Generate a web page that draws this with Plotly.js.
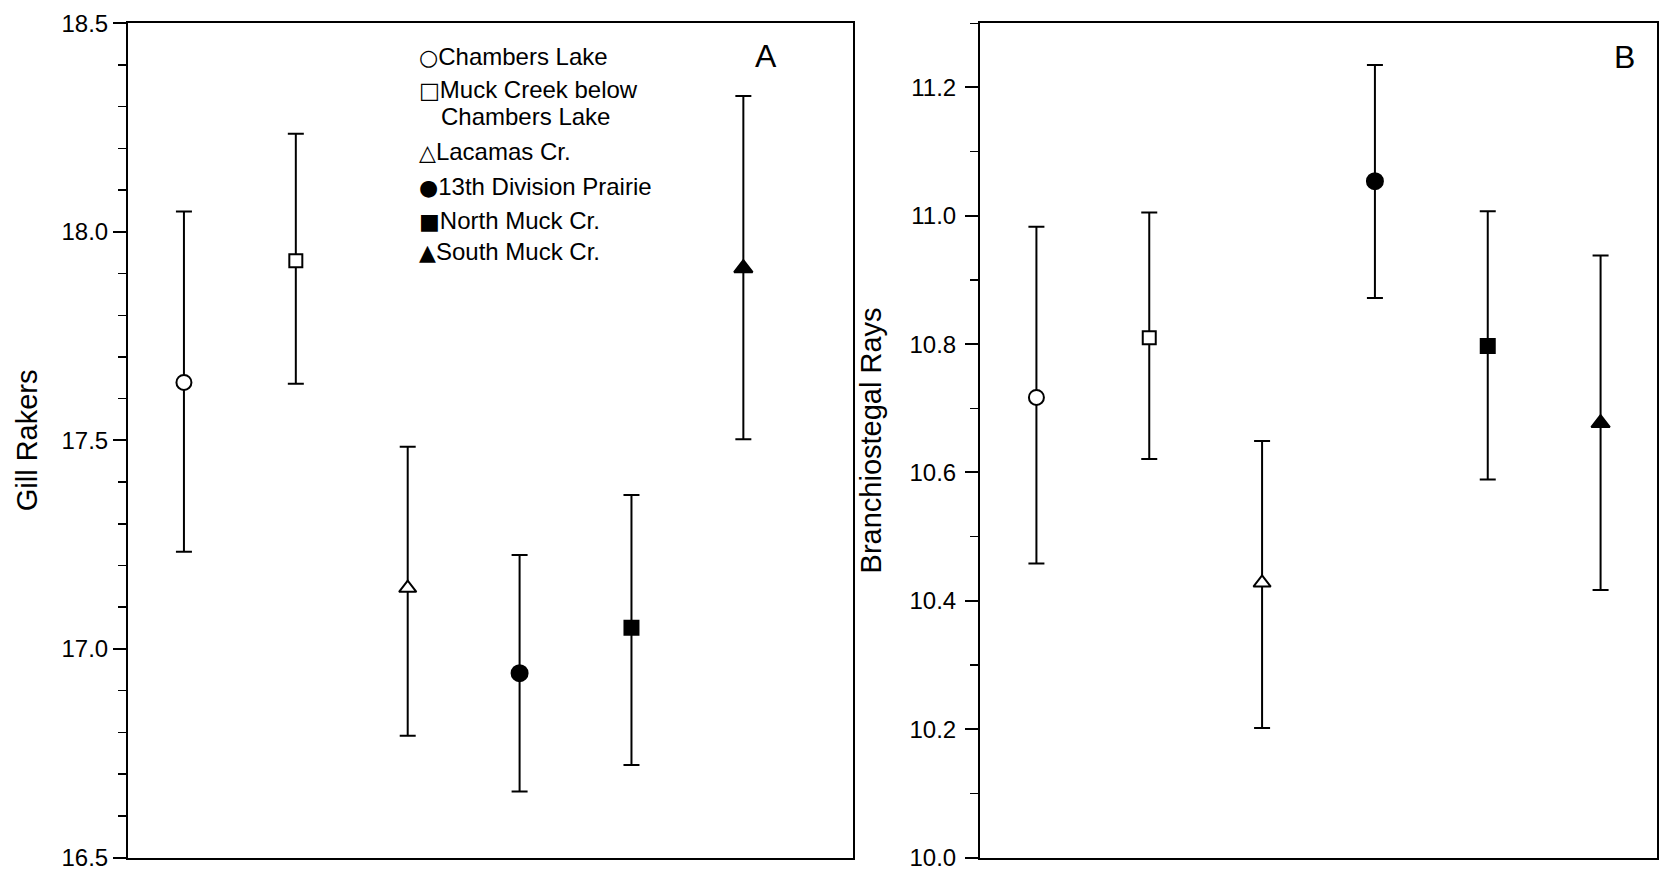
<!DOCTYPE html>
<html>
<head>
<meta charset="utf-8">
<script src="https://cdn.plot.ly/plotly-3.0.1.min.js"></script>
<style>
  html, body { margin: 0; padding: 0; background: #ffffff; }
  #chart { width: 1662px; height: 874px; }
</style>
</head>
<body>
<div id="chart"></div>
<script>
// ---- data ----
const sites = ["Chambers Lake", "Muck Creek below Chambers Lake", "Lacamas Cr.", "13th Division Prairie", "North Muck Cr.", "South Muck Cr."];
const legendLines = ["Chambers Lake", "Muck Creek below<br>Chambers Lake", "Lacamas Cr.", "13th Division Prairie", "North Muck Cr.", "South Muck Cr."];
const sitePos = [1, 2, 3, 4, 5, 6];

const gillMean  = [17.639, 17.931, 17.146, 16.942, 17.051, 17.913];
const gillUpper = [18.049, 18.235, 17.485, 17.225, 17.369, 18.326];
const gillLower = [17.233, 17.636, 16.792, 16.658, 16.722, 17.503];

const brMean  = [10.717, 10.810, 10.428, 11.054, 10.797, 10.677];
const brUpper = [10.983, 11.005, 10.649, 11.235, 11.007, 10.938];
const brLower = [10.458, 10.621, 10.202, 10.872, 10.589, 10.417];

const gillTicks = [16.5, 17.0, 17.5, 18.0, 18.5];
const brTicks = [10.0, 10.2, 10.4, 10.6, 10.8, 11.0, 11.2];

// ---- styles ----
const markerSymbols = ["circle", "square", "triangle-up", "circle", "square", "triangle-up"];
const markerFills = ["#ffffff", "#ffffff", "#ffffff", "#000000", "#000000", "#000000"];
const markerSizes = [15, 13, 15, 16, 14, 16];
const legendGlyphs = ["○", "□", "△", "●", "■", "▲"];
const glyphSizes = [22, 22, 22, 22, 22, 22];

const W = 1662, H = 874;
const px = v => v / W;
const py = v => 1 - v / H;

const FONT = "Liberation Sans, Arial, Helvetica, sans-serif";

const traces = [];
sites.forEach((s, i) => {
  traces.push({
    type: "scatter", mode: "markers", name: s, showlegend: false,
    x: [sitePos[i]], y: [gillMean[i]], xaxis: "x", yaxis: "y",
    error_y: { type: "data", symmetric: false,
      array: [gillUpper[i] - gillMean[i]], arrayminus: [gillMean[i] - gillLower[i]],
      color: "#000", thickness: 2, width: 8 },
    marker: { symbol: markerSymbols[i], size: markerSizes[i], color: markerFills[i],
      line: { color: "#000", width: 2 } }
  });
  traces.push({
    type: "scatter", mode: "markers", name: s, showlegend: false,
    x: [sitePos[i]], y: [brMean[i]], xaxis: "x2", yaxis: "y2",
    error_y: { type: "data", symmetric: false,
      array: [brUpper[i] - brMean[i]], arrayminus: [brMean[i] - brLower[i]],
      color: "#000", thickness: 2, width: 8 },
    marker: { symbol: markerSymbols[i], size: markerSizes[i], color: markerFills[i],
      line: { color: "#000", width: 2 } }
  });
});

const xCommon = {
  showline: true, linecolor: "#000", linewidth: 2, mirror: true,
  showticklabels: false, ticks: "", showgrid: false, zeroline: false
};
const yCommon = {
  showline: true, linecolor: "#000", linewidth: 2, mirror: true,
  ticks: "outside", ticklen: 13, tickwidth: 2, tickcolor: "#000",
  showgrid: false, zeroline: false, tickformat: ".1f",
  tickfont: { family: FONT, size: 24, color: "#000" },
  minor: { dtick: 0.1, ticks: "outside", ticklen: 8, tickwidth: 1.5, tickcolor: "#000", showgrid: false },
  automargin: false
};

const annotations = [];
// legend (panel A)
const legendRows = [56, 89.3, 151.7, 186.7, 220, 251.7];
legendLines.forEach((t, i) => {
  const parts = t.split("<br>");
  annotations.push({
    xref: "paper", yref: "paper", x: px(417), y: py(legendRows[i]),
    xanchor: "left", yanchor: "middle", showarrow: false, align: "left",
    text: '<span style="font-family:\'DejaVu Sans\';font-size:' + glyphSizes[i] + 'px">' + legendGlyphs[i] + '</span>' + parts[0],
    font: { family: FONT, size: 24, color: "#000" }
  });
  if (parts.length > 1) {
    annotations.push({
      xref: "paper", yref: "paper", x: px(439), y: py(legendRows[i] + 26.7),
      xanchor: "left", yanchor: "middle", showarrow: false, align: "left",
      text: parts[1],
      font: { family: FONT, size: 24, color: "#000" }
    });
  }
});
annotations.push({ xref: "paper", yref: "paper", x: px(766), y: py(56), xanchor: "center", yanchor: "middle",
  showarrow: false, text: "A", font: { family: FONT, size: 32, color: "#000" } });
annotations.push({ xref: "paper", yref: "paper", x: px(1624), y: py(57), xanchor: "center", yanchor: "middle",
  showarrow: false, text: "B", font: { family: FONT, size: 32, color: "#000" } });

const layout = {
  width: W, height: H,
  margin: { l: 0, r: 0, t: 0, b: 0 },
  paper_bgcolor: "#fff", plot_bgcolor: "#fff",
  showlegend: false,
  xaxis: Object.assign({}, xCommon, { domain: [px(128), px(853)], range: [0.5, 6.98] }),
  yaxis: Object.assign({}, yCommon, {
    domain: [py(857.5), py(23.3)], range: [16.5, 18.5], tickvals: gillTicks,
    title: { text: "Gill Rakers", font: { family: FONT, size: 29, color: "#000" }, standoff: 15 }
  }),
  xaxis2: Object.assign({}, xCommon, { domain: [px(980), px(1657)], range: [0.5, 6.5], anchor: "y2" }),
  yaxis2: Object.assign({}, yCommon, {
    domain: [py(857.5), py(23.3)], range: [10.0, 11.3], tickvals: brTicks, anchor: "x2",
    ticklabelstandoff: 4,
    title: { text: "Branchiostegal Rays", font: { family: FONT, size: 29, color: "#000" }, standoff: 19 }
  }),
  annotations: annotations
};

Plotly.newPlot("chart", traces, layout, { displayModeBar: false, staticPlot: true });
</script>
</body>
</html>
